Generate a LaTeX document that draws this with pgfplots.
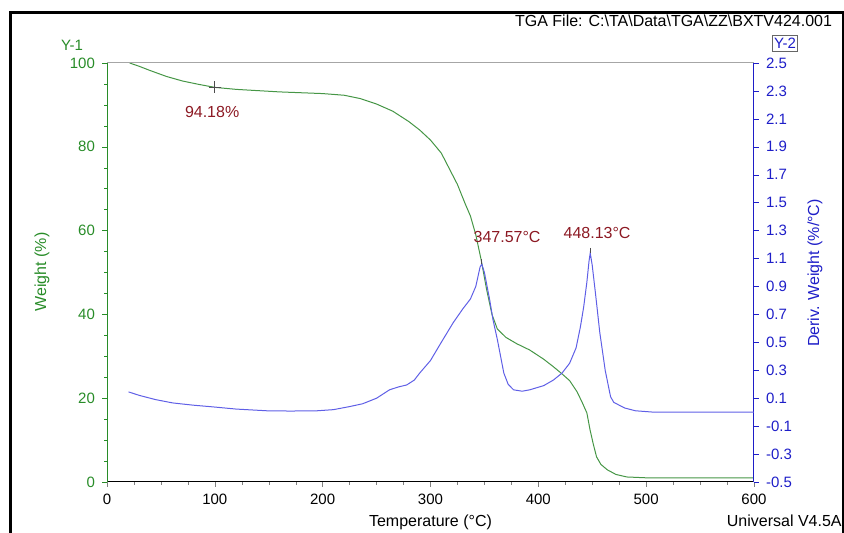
\documentclass[border=0pt]{standalone}
\usepackage{fontspec}
\setmainfont{Liberation Sans}
\usepackage{pgfplots}
\pgfplotsset{compat=1.18}

\definecolor{wgreen}{RGB}{40,140,40}
\definecolor{lgreen}{RGB}{70,150,70}
\definecolor{wblue}{RGB}{30,30,200}
\definecolor{lblue}{RGB}{95,95,230}
\definecolor{dred}{RGB}{140,25,35}

\pgfplotsset{
  tga/.style={
    scale only axis, width=323.5pt, height=209.5pt,
    at={(0,0)}, anchor=south west,
    xmin=0, xmax=600,
    tick align=outside,
    major tick length=2.5pt, minor tick length=1.5pt,
    tick label style={font=\fontsize{7.5}{9}\selectfont},
    /pgf/number format/assume math mode=true,
    axis line style={line width=0.5pt},
  }
}

\begin{document}
\begin{tikzpicture}
\path[use as bounding box] (-53.5pt,-25.5pt) rectangle (368.5pt,241pt);

% weight (left axis)
\begin{axis}[tga,
  ymin=0, ymax=100,
  axis x line*=bottom, axis y line*=left,
  xtick={0,100,...,600}, minor x tick num=3,
  ytick={0,20,...,100}, minor y tick num=3,
  y axis line style={draw=wgreen},
  ytick style={draw=wgreen},
  yticklabel style={text=wgreen},
]
\addplot[lgreen, line width=0.5pt] coordinates {
(21,100) (30,99.2) (40,98.2) (55,96.8) (70,95.7) (85,94.9) (100,94.18)
(120,93.7) (140,93.4) (160,93.1) (180,92.9) (200,92.7) (220,92.3) (235,91.5)
(250,90.2) (265,88.5) (280,86) (290,84) (300,81.6) (310,78.5) (318,74.5)
(325,71) (332,66.5) (337,63.5) (342,59) (347,53) (352,46) (357,40) (362,36.5)
(370,34.5) (380,33) (392,31.5) (405,29.3) (414,27.5) (422,25.8) (429,24.2)
(436,21.5) (441,18.8) (445,16.5) (448,12.4) (451,9) (454,6) (458,4.2)
(464,2.9) (472,1.8) (482,1.2) (500,1.0) (550,1.0) (600,1.0)
};
\addplot[black!70, only marks, mark=+, mark size=3pt, mark options={line width=0.4pt}] coordinates {(100,94.18)};
\node[text=dred, font=\fontsize{8}{9}\selectfont] at (axis cs:97.5,88.3) {94.18\%};
\draw[gray!70, line width=0.5pt] (rel axis cs:0,1) -- (rel axis cs:1,1);
\end{axis}

% derivative (right axis)
\begin{axis}[tga,
  ymin=-0.5, ymax=2.5,
  axis x line=none, axis y line*=right,
  ytick={-0.5,-0.3,-0.1,0.1,0.3,0.5,0.7,0.9,1.1,1.3,1.5,1.7,1.9,2.1,2.3,2.5},
  yticklabels={-0.5,-0.3,-0.1,0.1,0.3,0.5,0.7,0.9,1.1,1.3,1.5,1.7,1.9,2.1,2.3,2.5},
  y axis line style={draw=wblue},
  ytick style={draw=wblue},
  yticklabel style={text=wblue},
]
\addplot[lblue, line width=0.5pt] coordinates {
(20,0.145) (30,0.12) (45,0.09) (61,0.066) (80,0.05) (98,0.038) (120,0.022)
(148,0.01) (170,0.008) (195,0.01) (210,0.018) (225,0.04) (237,0.06) (250,0.1)
(262,0.16) (270,0.18) (278,0.195) (285,0.23) (290,0.28) (300,0.37) (310,0.5)
(321,0.64) (330,0.74) (337,0.81) (342,0.9) (346,1.04) (347.57,1.06) (350,1.0)
(355,0.80) (358,0.66) (362,0.52) (368,0.28) (372,0.2) (377,0.16) (385,0.15)
(392,0.16) (405,0.19) (414,0.23) (422,0.28) (429,0.35) (435,0.46) (439,0.61)
(442,0.75) (445,0.93) (447,1.08) (448.13,1.14) (450,1.05) (453,0.85)
(457,0.57) (462,0.3) (467,0.11) (470,0.07) (480,0.03) (490,0.01) (507,0.0)
(550,0.0) (600,0.0)
};
\addplot[black!70, only marks, mark=|, mark size=1.3pt, mark options={line width=0.4pt, yshift=1.2pt}] coordinates {(347.57,1.06) (448.13,1.14)};
\node[text=dred, font=\fontsize{8}{9}\selectfont] at (axis cs:371,1.254) {347.57°C};
\node[text=dred, font=\fontsize{8}{9}\selectfont] at (axis cs:454.5,1.283) {448.13°C};
\end{axis}

% texts around the axes
\node[font=\fontsize{8}{9}\selectfont] at (161.75pt,-20pt) {Temperature (°C)};
\node[font=\fontsize{8}{9}\selectfont, text=wgreen, rotate=90] at (-32.5pt,105pt) {Weight (\%)};
\node[font=\fontsize{8}{9}\selectfont, text=wblue, rotate=90] at (354pt,104.5pt) {Deriv. Weight (\%/°C)};
\node[font=\fontsize{7.5}{9}\selectfont, text=wgreen] at (-17.5pt,218.5pt) {Y-1};
\node[font=\fontsize{7.5}{9}\selectfont, text=wblue, draw=black!60, line width=0.5pt, inner xsep=0.6pt, inner ysep=1.4pt] at (339pt,219.25pt) {Y-2};
\node[font=\fontsize{8}{9}\selectfont, anchor=east] at (366pt,230.5pt) {TGA File: C:\textbackslash TA\textbackslash Data\textbackslash TGA\textbackslash ZZ\textbackslash BXTV424.001};
\node[font=\fontsize{8}{9}\selectfont, anchor=east, inner sep=0pt] at (367.5pt,-19.5pt) {Universal V4.5A};

% outer frame
\draw[line width=1.5pt] (-48pt,-26pt) -- (-48pt,234.5pt) -- (368pt,234.5pt) -- (368pt,-26pt);
\end{tikzpicture}
\end{document}
